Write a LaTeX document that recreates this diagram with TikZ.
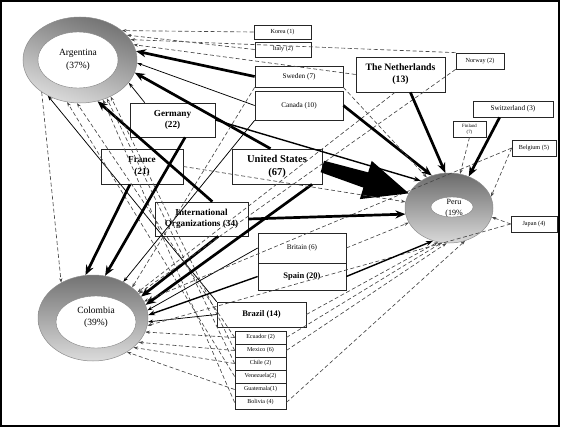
\documentclass[tikz,border=0pt]{standalone}
\usepackage{fontspec}
\setmainfont{Liberation Serif}
\usetikzlibrary{arrows.meta,shapes.geometric,calc}
\begin{document}
\begin{tikzpicture}[x=1pt,y=-1pt,
  box/.style={draw=black!85, line width=0.7pt, inner sep=0pt, align=center, text=black},
  fA/.style={font=\fontsize{6.2}{7.4}\selectfont},
  fB/.style={font=\fontsize{7.2}{8.6}\selectfont},
  fF/.style={font=\fontsize{4.8}{6}\selectfont},
  fS/.style={font=\fontsize{6}{7}\selectfont},
  fM/.style={font=\fontsize{9.2}{11.5}\selectfont\bfseries},
  fN/.style={font=\fontsize{9.8}{12}\selectfont\bfseries},
  fU/.style={font=\fontsize{10.5}{13}\selectfont\bfseries},
  fP/.style={font=\fontsize{8.5}{10}\selectfont\bfseries},
  fE/.style={font=\fontsize{9.5}{12.5}\selectfont, align=center, inner sep=0pt},
  ring/.style={ellipse, draw=black!45, line width=0.5pt, inner sep=0pt, top color=black!55, bottom color=black!14},
  hole/.style={ellipse, draw=black!50, line width=0.4pt, fill=white, inner sep=0pt},
  dsh/.style={draw=black!72, line width=0.65pt, dash pattern=on 4pt off 2.5pt, -{Stealth[length=4.5pt,width=3.2pt]}},
  thn/.style={draw=black, line width=0.75pt, -{Stealth[length=5pt,width=3.5pt]}},
  med/.style={draw=black, line width=1.4pt, -{Stealth[length=7pt,width=5pt]}},
  thk/.style={draw=black, line width=2.7pt, -{Stealth[length=10pt,width=8pt]}},
]
\useasboundingbox (0,0) rectangle (561,428);
\draw[line width=1.2pt] (1,1) rectangle (559,426);

% countries (ellipses)
\node[ring, shading angle=-20, minimum width=114pt, minimum height=86pt] (arg) at (80,60) {};
\node[hole, minimum width=80pt, minimum height=56pt] (argin) at (78,60) {};
\node[fE] (argtxt) at (78,60) {Argentina\\(37\%)};
\node[ring, minimum width=110pt, minimum height=86pt] (col) at (93,318) {};
\node[hole, minimum width=80pt, minimum height=52pt] (colin) at (96,322) {};
\node[fE] (coltxt) at (96,317) {Colombia\\(39\%)};
\node[ring, shading angle=-30, top color=black!58, bottom color=black!15, minimum width=88pt, minimum height=70pt] (peru) at (449,208) {};
\node[hole, minimum width=42pt, minimum height=20pt] (peruin) at (452,207) {};
\node[fE, font=\fontsize{8}{10.5}\selectfont] (perutxt) at (454,208) {Peru\\(19\%};

% donor boxes
\node[box, fA, minimum width=57pt, minimum height=14pt] (korea) at (282.5,32) {Korea (1)};
\node[box, fA, minimum width=56pt, minimum height=15pt] (italy) at (283,49.5) {Italy (2)};
\node[box, fB, minimum width=88pt, minimum height=21pt] (sweden) at (299,76.5) {Sweden (7)};
\node[box, fB, minimum width=88pt, minimum height=29pt] (canada) at (299,105.5) {Canada (10)};
\node[box, fN, minimum width=89pt, minimum height=35pt] (neth) at (400.5,74.5) {The Netherlands\\(13)};
\node[box, fA, minimum width=48pt, minimum height=16pt] (norway) at (480,61) {Norway (2)};
\node[box, fB, minimum width=80pt, minimum height=16pt] (switz) at (513,109) {Switzerland (3)};
\node[box, fF, minimum width=33pt, minimum height=16pt] (finland) at (469.5,129) {Finland\\(7)};
\node[box, fA, minimum width=44pt, minimum height=16pt] (belgium) at (534,148) {Belgium (5)};
\node[box, fA, minimum width=46pt, minimum height=16pt] (japan) at (534,224) {Japan (4)};
\node[box, fM, minimum width=85pt, minimum height=34pt] (germany) at (172.5,120) {Germany\\(22)};
\node[box, fM, minimum width=82pt, minimum height=35pt] (france) at (142,166.5) {France\\(21)};
\node[box, fU, minimum width=90pt, minimum height=35pt] (us) at (277,166.5) {United States\\(67)};
\node[box, fM, minimum width=93pt, minimum height=34pt] (intorg) at (201.5,219) {International\\Organizations (34)};
\node[box, fB, minimum width=88pt, minimum height=30pt] (britain) at (302,248) {Britain (6)};
\node[box, fP, minimum width=88pt, minimum height=27pt] (spain) at (302,276.5) {Spain (20)};
\node[box, fP, minimum width=89pt, minimum height=25pt] (brazil) at (261.5,314.5) {Brazil (14)};
\node[box, fS, minimum width=51pt, minimum height=13pt] (ecu) at (260.5,337.5) {Ecuador (2)};
\node[box, fS, minimum width=51pt, minimum height=13pt] (mex) at (260.5,350.5) {Mexico (6)};
\node[box, fS, minimum width=51pt, minimum height=13pt] (chi) at (260.5,363.5) {Chile (2)};
\node[box, fS, minimum width=51pt, minimum height=13pt] (ven) at (260.5,376.5) {Venezuela(2)};
\node[box, fS, minimum width=51pt, minimum height=13pt] (gua) at (260.5,389.5) {Guatemala(1)};
\node[box, fS, minimum width=51pt, minimum height=13pt] (bol) at (260.5,402.5) {Bolivia (4)};

% ---- flows to Argentina
\draw[dsh] (korea.west) -- (arg.35);
\draw[dsh] (italy.west) -- (arg.28);
\draw[dsh] (norway.north west) -- (arg.22);
\draw[dsh] (neth.west) -- (arg.16);
\draw[thk] (sweden.west) -- (arg.9);
\draw[thn] (canada.west) -- (arg.-3);
\draw[thk] (us.110) -- (arg.-13);
\draw[thn] (germany.148) -- (arg.-25);
\draw[thk] (intorg.58) -- (arg.-67);
\draw[thn] (brazil.north west) -- (arg.-132);
\draw[dsh] (ecu.west) -- (arg.-94);
\draw[dsh] (ven.west) -- (arg.-107);
\draw[dsh] (mex.west) -- (arg.-50);
\draw[dsh] (chi.west) -- (arg.-55);
\draw[dsh] (bol.west) -- (arg.-60);
\draw[dsh] (arg.-140) -- (col.132);

% ---- flows to Colombia
\draw[thk] (france.-124) -- (col.100);
\draw[thk] (germany.-54) -- (col.74);
\draw[thn] (canada.south west) -- (col.50);
\draw[dsh] (sweden.south west) -- (col.38);
\draw[thk] (intorg.-46) -- (col.24);
\draw[thk] (us.-27) -- (col.14);
\draw[thn] (britain.west) -- (col.8);
\draw[med] (spain.west) -- (col.3);
\draw[thn] (brazil.west) -- (col.-4);
\draw[dsh] (neth.-107) -- (col.30);
\draw[dsh] (norway.south west) -- (col.28);
\draw[dsh] (belgium.west) -- (col.18);
\draw[dsh] (japan.west) -- (col.-8);
\draw[dsh] (ecu.west) -- (col.-15);
\draw[dsh] (mex.west) -- (col.-28);
\draw[dsh] (chi.west) -- (col.-36);
\draw[dsh] (gua.west) -- (col.-45);

% ---- flows to Peru
\coordinate (bigS) at (us.east);
\coordinate (bigT) at (peru.160);
\coordinate (bigB) at ($(bigT)!45pt!(bigS)$);
\fill[black] ($(bigS)!6pt!90:(bigT)$) -- ($(bigB)!8pt!-90:(bigS)$) -- ($(bigB)!20pt!-90:(bigS)$) -- (bigT)
   -- ($(bigB)!20pt!90:(bigS)$) -- ($(bigB)!8pt!90:(bigS)$) -- ($(bigS)!6pt!-90:(bigT)$) -- cycle;
\draw[thk] (intorg.east) -- (peru.188);
\draw[med] (germany.east) -- (peru.136);
\draw[thk] (canada.east) -- (peru.118);
\draw[thk] (neth.-61) -- (peru.96);
\draw[dsh] (sweden.south east) -- (peru.126);
\draw[thk] (switz.-148) -- (peru.58);
\draw[dsh] (finland.south) -- (peru.72);
\draw[dsh] (belgium.west) -- (peru.15);
\draw[dsh] (japan.west) -- (peru.-12);
\draw[dsh] (france.east) -- (peru.172);
\draw[dsh] (britain.east) -- (peru.200);
\draw[med] (spain.east) -- (peru.244);
\draw[dsh] (brazil.east) -- (peru.252);
\draw[dsh] (ecu.east) -- (peru.258);
\draw[dsh] (mex.east) -- (peru.266);
\draw[dsh] (bol.east) -- (peru.296);
\end{tikzpicture}
\end{document}
